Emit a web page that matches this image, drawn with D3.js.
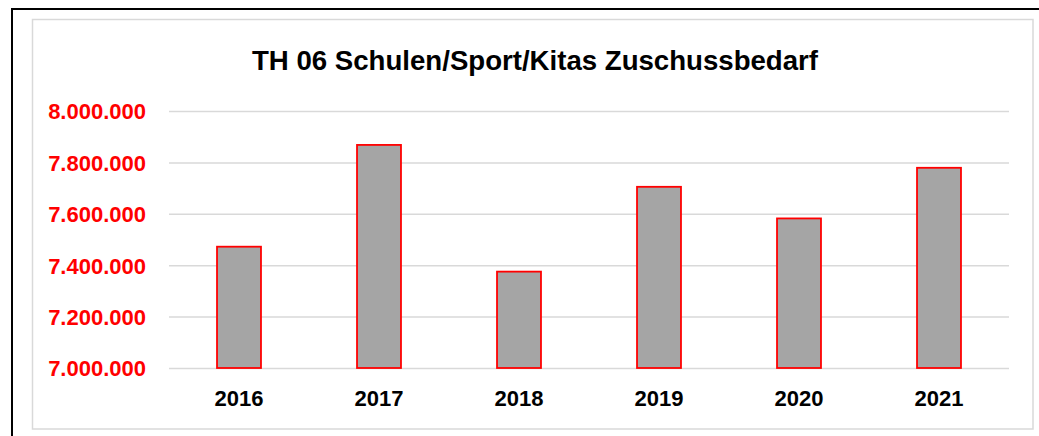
<!DOCTYPE html>
<html><head><meta charset="utf-8">
<script src="https://cdn.jsdelivr.net/npm/d3@7"></script>
<style>html,body{margin:0;padding:0;background:#fff;overflow:hidden}</style>
</head><body>
<svg id="c" width="1039" height="436"></svg>
<script>
const title = "TH 06 Schulen/Sport/Kitas Zuschussbedarf";
const categories = ["2016","2017","2018","2019","2020","2021"];
const values = [7472000, 7868000, 7375000, 7705000, 7582000, 7779000];
const yTicks = [7000000, 7200000, 7400000, 7600000, 7800000, 8000000];

const svg = d3.select("#c");
const font = "'Liberation Sans', Arial, sans-serif";

// outer frame (extends beyond window right/bottom)
svg.append("rect").attr("x",12).attr("y",9).attr("width",1040).attr("height",440)
  .attr("fill","#fff").attr("stroke","#000").attr("stroke-width",2);
// inner chart area border
svg.append("rect").attr("x",32.5).attr("y",19.5).attr("width",1000.5).attr("height",409.5)
  .attr("fill","#fff").attr("stroke","#d9d9d9").attr("stroke-width",1.5);

const x = d3.scaleBand().domain(categories).range([169,1009]).paddingInner(0.686).paddingOuter(0.343);
const y = d3.scaleLinear().domain([7000000,8000000]).range([368,111]);

const fmt = v => d3.format(",")(v).replace(/,/g,".");

// gridlines
const yAxis = d3.axisLeft(y).tickValues(yTicks).tickSize(-(1009-169)).tickFormat(fmt).tickPadding(23);
const gy = svg.append("g").attr("transform","translate(169,0)").call(yAxis);
gy.select(".domain").remove();
gy.selectAll(".tick line").attr("stroke","#d9d9d9").attr("stroke-width",1.5);
gy.selectAll(".tick text").attr("fill","#ff0000").attr("font-family",font)
  .attr("font-weight","bold").attr("font-size",22).attr("dy","0.36em");

// bars
svg.append("g").selectAll("rect").data(values).join("rect")
  .attr("x",(d,i)=>x(categories[i]))
  .attr("width",x.bandwidth())
  .attr("y",d=>y(d))
  .attr("height",d=>y(7000000)-y(d))
  .attr("fill","#a5a5a5").attr("stroke","#ff0000").attr("stroke-width",1.8);

// x axis labels
const xAxis = d3.axisBottom(x).tickSize(0).tickPadding(22);
const gx = svg.append("g").attr("transform","translate(0,368)").call(xAxis);
gx.select(".domain").remove();
gx.selectAll(".tick text").attr("fill","#000").attr("font-family",font)
  .attr("font-weight","bold").attr("font-size",22);

// title
svg.append("text").attr("x",535).attr("y",70).attr("text-anchor","middle")
  .attr("font-family",font).attr("font-weight","bold").attr("font-size",28)
  .attr("textLength",566).attr("lengthAdjust","spacingAndGlyphs")
  .text(title);
</script>
</body></html>
